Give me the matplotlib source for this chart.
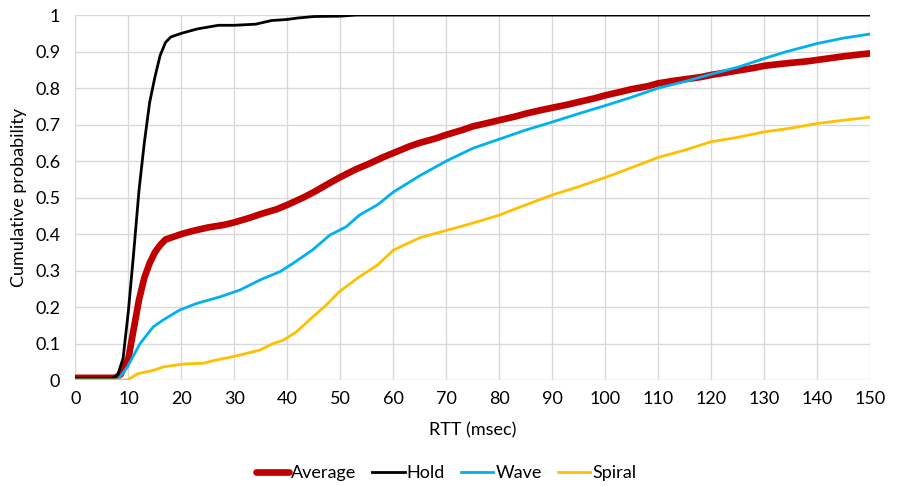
import numpy as np
import matplotlib
matplotlib.use('Agg')
import matplotlib.pyplot as plt

plt.rcParams['font.family'] = ['Lato', 'DejaVu Sans']

# CDF curves of RTT
hold_x = [0, 7, 8, 9, 10, 11, 12, 13, 14, 15, 16, 17, 18, 20, 23, 27, 30, 34, 37, 40, 42, 45, 50, 53, 150]
hold_y = [0.005, 0.005, 0.015, 0.06, 0.19, 0.35, 0.52, 0.65, 0.76, 0.83, 0.89, 0.925, 0.94, 0.95, 0.962,
          0.972, 0.972, 0.975, 0.985, 0.988, 0.992, 0.996, 0.997, 1.0, 1.0]

avg_x = [0, 7.5, 8.5, 10, 11, 12, 13, 14, 15, 16, 17, 18, 20, 22, 25, 28, 30, 33, 35, 38, 40, 43, 45, 48, 50,
         53, 55, 58, 60, 63, 65, 68, 70, 73, 75, 78, 80, 83, 85, 88, 90, 93, 95, 98, 100, 103, 105, 108, 110,
         113, 115, 118, 120, 123, 125, 128, 130, 133, 135, 138, 140, 143, 145, 148, 150]
avg_y = [0.006, 0.006, 0.015, 0.06, 0.14, 0.22, 0.28, 0.32, 0.35, 0.37, 0.385, 0.39, 0.40, 0.408, 0.418, 0.425,
         0.432, 0.445, 0.455, 0.468, 0.48, 0.50, 0.515, 0.54, 0.556, 0.578, 0.59, 0.61, 0.622, 0.64, 0.65, 0.662,
         0.672, 0.685, 0.695, 0.705, 0.712, 0.722, 0.73, 0.74, 0.746, 0.755, 0.762, 0.772, 0.78, 0.79, 0.797,
         0.805, 0.813, 0.82, 0.824, 0.83, 0.836, 0.843, 0.848, 0.855, 0.861, 0.866, 0.869, 0.873, 0.877, 0.883,
         0.887, 0.892, 0.895]

wave_x = [0, 8, 9.8, 12.2, 14.7, 16.6, 19.7, 22.9, 27.3, 31.1, 34.8, 38.6, 41.1, 44.8, 48, 51.1, 53.6, 57, 60,
          65, 70, 75, 80, 85, 90, 95, 100, 105, 110, 115, 120, 125, 130, 134, 140, 145, 150]
wave_y = [0, 0, 0.036, 0.10, 0.146, 0.165, 0.192, 0.21, 0.228, 0.247, 0.274, 0.297, 0.32, 0.357, 0.397, 0.42,
          0.452, 0.48, 0.515, 0.56, 0.60, 0.635, 0.66, 0.685, 0.707, 0.73, 0.752, 0.775, 0.80, 0.818, 0.838,
          0.857, 0.881, 0.899, 0.922, 0.937, 0.948]

spiral_x = [0, 9.8, 11.7, 14.8, 16.6, 20.4, 24.1, 26.6, 29.7, 34.8, 37.3, 39.2, 41.7, 44.8, 47.3, 49.8, 53.6,
            57, 60, 65, 70, 75, 80, 85, 90, 95, 100, 102.8, 110, 115, 120, 125, 130, 135, 140, 145, 150]
spiral_y = [0, 0, 0.017, 0.027, 0.036, 0.044, 0.046, 0.055, 0.064, 0.082, 0.10, 0.109, 0.132, 0.173, 0.205,
            0.242, 0.283, 0.315, 0.356, 0.39, 0.41, 0.43, 0.452, 0.48, 0.507, 0.53, 0.555, 0.57, 0.61, 0.63,
            0.653, 0.665, 0.68, 0.69, 0.703, 0.712, 0.72]

fig = plt.figure(figsize=(8.98, 4.86), dpi=100)
ax = fig.add_axes([0.084, 0.218, 0.885, 0.751])

ax.plot(avg_x, avg_y, color='#C00000', lw=4.8, label='Average', solid_capstyle='round')
ax.plot(hold_x, hold_y, color='black', lw=2, label='Hold')
ax.plot(wave_x, wave_y, color='#00B0F0', lw=2, label='Wave')
ax.plot(spiral_x, spiral_y, color='#FFC000', lw=2, label='Spiral')

ax.set_xlim(0, 150)
ax.set_ylim(0, 1)
ax.set_xticks(np.arange(0, 151, 10))
ax.set_yticks(np.arange(0, 1.01, 0.1))
ax.set_yticklabels(['0', '0.1', '0.2', '0.3', '0.4', '0.5', '0.6', '0.7', '0.8', '0.9', '1'])
ax.grid(True, color='#D9D9D9', lw=1)
ax.set_axisbelow(True)
for s in ax.spines.values():
    s.set_visible(False)
ax.tick_params(length=0, labelsize=13, colors='black')
ax.tick_params(axis='y', pad=11)
ax.tick_params(axis='x', pad=8)

ax.set_xlabel('RTT (msec)', fontsize=13, labelpad=11)
ax.set_ylabel('Cumulative probability', fontsize=13, labelpad=6)

fig.legend(loc='center', bbox_to_anchor=(0.497, 0.027), ncol=4, frameon=False, fontsize=13,
           handlelength=1.8, handletextpad=0.1, columnspacing=0.9)

fig.savefig('out.png', dpi=100)
